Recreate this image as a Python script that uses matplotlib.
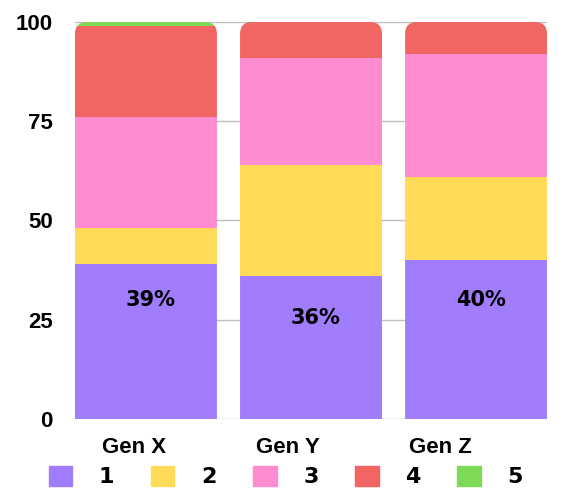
import numpy as np
import matplotlib
matplotlib.use("Agg")
import matplotlib.pyplot as plt
from matplotlib.patches import Patch, FancyBboxPatch

# data
groups = ["Gen X", "Gen Y", "Gen Z"]
levels = ["1", "2", "3", "4", "5"]
share_1 = [39, 36, 40]
share_2 = [9, 28, 21]
share_3 = [28, 27, 31]
share_4 = [23, 9, 8]
share_5 = [1, 0, 0]
label_pos = [30, 25.5, 30]
colors = ["#a17dfd", "#ffdb58", "#ff8bd0", "#f16563", "#7ed957"]

series = [share_1, share_2, share_3, share_4, share_5]

fig = plt.figure(figsize=(5.66, 4.9), dpi=100)
ax = fig.add_axes([0.1325, 0.145, 0.834, 0.81])

x = np.arange(len(groups))
width = 0.86
bottom = np.zeros(len(groups))
bars = []
for vals, col in zip(series, colors):
    b = ax.bar(x, vals, width, bottom=bottom, color=col, zorder=2)
    bars.append(b)
    bottom += np.array(vals)

ax.set_xlim(-0.43, 2.43)
ax.set_ylim(0, 100)

# rounded top corners: clip each stack with a rounded box
for i, xi in enumerate(x):
    clip = FancyBboxPatch((xi - width / 2, -30), width, bottom[i] + 30,
                          boxstyle="round,pad=0,rounding_size=0.07",
                          mutation_aspect=41.6, transform=ax.transData,
                          facecolor="none", edgecolor="none")
    ax.add_patch(clip)
    for b in bars:
        b[i].set_clip_path(clip)

for xi, v, yp in zip(x, share_1, label_pos):
    ax.text(xi + 0.03, yp, f"{v}%", ha="center", va="center", fontsize=15,
            fontweight="bold", family="DejaVu Sans", zorder=3)

ax.set_yticks([0, 25, 50, 75, 100])
# category labels sit a bit left of the bars, drifting more to the right
ax.set_xticks(x * 0.927 - 0.07)
ax.set_xticklabels(groups)
ax.tick_params(length=0, labelsize=16)
ax.tick_params(axis="y", pad=16)
ax.tick_params(axis="x", pad=13)
for t in ax.get_xticklabels() + ax.get_yticklabels():
    t.set_fontweight("bold")
    t.set_family("Liberation Sans")
ax.yaxis.grid(True, color="#c0c0c0", linewidth=1, zorder=0)
ax.set_axisbelow(True)
for s in ax.spines.values():
    s.set_visible(False)

handles = [Patch(color=c) for c in colors]
leg = fig.legend(handles, levels, loc="lower center", ncol=5, frameon=False,
                 bbox_to_anchor=(0.505, -0.022), borderpad=0.1,
                 handlelength=1.05, handleheight=1.05,
                 handletextpad=1.2, columnspacing=1.65,
                 prop={"weight": "bold", "size": 16, "family": "DejaVu Sans"})

fig.savefig("out.png", dpi=100)
